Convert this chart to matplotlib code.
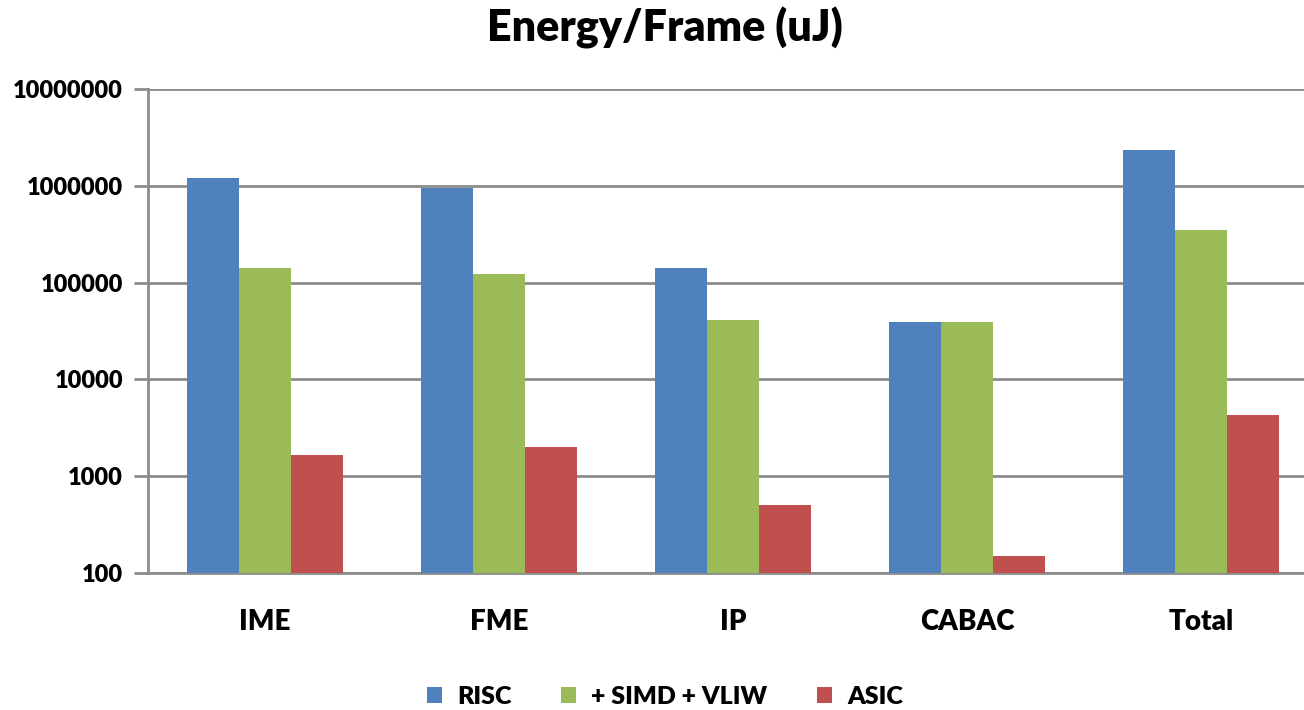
import numpy as np
import matplotlib.pyplot as plt
from matplotlib.ticker import FixedLocator, FixedFormatter, NullLocator

plt.rcParams['font.family'] = ['Lato', 'DejaVu Sans']

# Energy per frame in uJ (log scale)
categories = ['IME', 'FME', 'IP', 'CABAC', 'Total']
risc = [1210000, 950000, 143000, 39600, 2350000]
simd_vliw = [143000, 124000, 41500, 39600, 352000]
asic = [1650, 1990, 510, 150, 4250]

series = [('RISC', risc, '#4F81BD'),
          ('+ SIMD + VLIW', simd_vliw, '#9BBB59'),
          ('ASIC', asic, '#C0504D')]

fig = plt.figure(figsize=(13.04, 7.10), dpi=100)
ax = fig.add_axes([148 / 1304, 1 - 573 / 710, 1170 / 1304, 484 / 710])

x = np.arange(len(categories))
width = 0.222
for i, (name, vals, color) in enumerate(series):
    ax.bar(x + (i - 1) * width, vals, width, color=color,
           label=name, zorder=3)

ax.set_yscale('log')
ax.set_ylim(100, 1e7)
ax.set_xlim(-0.5, len(categories) - 0.5)

yt = [100, 1000, 10000, 100000, 1000000, 10000000]
ax.yaxis.set_major_locator(FixedLocator(yt))
ax.yaxis.set_major_formatter(FixedFormatter([str(v) for v in yt]))
ax.yaxis.set_minor_locator(NullLocator())
ax.set_xticks(x)
ax.set_xticklabels(categories)

grey = '#8C8C8C'
ax.grid(axis='y', color=grey, linewidth=2, zorder=0)
for s in ['top', 'right']:
    ax.spines[s].set_visible(False)
ax.spines['left'].set_color(grey)
ax.spines['left'].set_linewidth(2)
ax.spines['bottom'].set_color(grey)
ax.spines['bottom'].set_linewidth(2)
ax.tick_params(axis='y', length=10, width=2, color=grey, labelsize=17, pad=8)
ax.tick_params(axis='x', length=0, labelsize=20, pad=26)
for lbl in ax.get_yticklabels() + ax.get_xticklabels():
    lbl.set_fontweight('heavy')

fig.suptitle('Energy/Frame (uJ)', x=0.51, y=0.99, fontsize=31,
             fontweight='heavy')

fig.legend(loc='center', bbox_to_anchor=(0.51, 0.018), ncol=3, frameon=False,
           prop={'size': 18, 'weight': 'heavy'}, handlelength=0.6,
           handleheight=0.6, columnspacing=2.0, handletextpad=0.6)

fig.savefig('out.png', dpi=100)
